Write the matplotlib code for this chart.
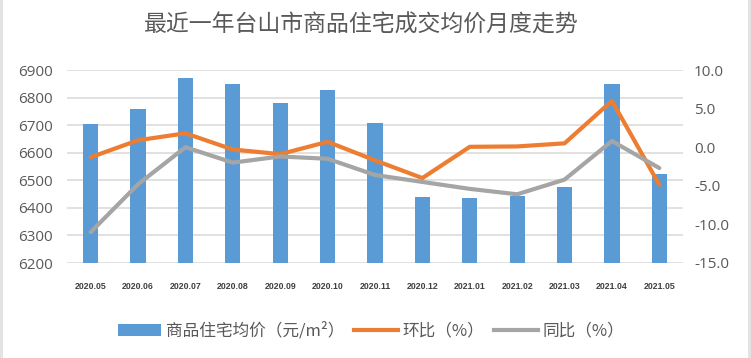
import matplotlib
matplotlib.use("Agg")
import matplotlib.pyplot as plt
from matplotlib.lines import Line2D
from matplotlib.patches import Patch, Rectangle

months = ["2020.05", "2020.06", "2020.07", "2020.08", "2020.09", "2020.10", "2020.11",
          "2020.12", "2021.01", "2021.02", "2021.03", "2021.04", "2021.05"]
price = [6703, 6757, 6872, 6848, 6779, 6826, 6706, 6440, 6436, 6443, 6476, 6851, 6522]
mom = [-1.3, 0.9, 1.8, -0.3, -0.9, 0.7, -1.7, -4.0, 0.05, 0.1, 0.5, 6.0, -4.85]
yoy = [-11.0, -4.8, 0.0, -2.0, -1.2, -1.5, -3.6, -4.5, -5.4, -6.1, -4.2, 0.8, -2.7]

title = "最近一年台山市商品住宅成交均价月度走势"
lab_bar = "商品住宅均价（元/m²）"
lab_mom = "环比（%）"
lab_yoy = "同比（%）"

plt.rcParams['font.family'] = ['Noto Sans CJK SC', 'DejaVu Sans']

BLUE = "#5B9BD5"
ORANGE = "#ED7D31"
GRAY = "#A5A5A5"
TXT = "#595959"

fig = plt.figure(figsize=(7.51, 3.58), dpi=100)
fig.patch.set_facecolor("white")
ax = fig.add_axes([67/751, 1-263/358, (683-67)/751, (263-70)/358])
ax2 = ax.twinx()

x = list(range(len(months)))
ax.set_axisbelow(True)
ax.bar(x, price, width=0.32, color=BLUE, zorder=2)
ax.set_ylim(6200, 6900)
ax.set_yticks(range(6200, 6901, 100))
ax.set_xlim(-0.5, len(months) - 0.5)
ax.yaxis.grid(True, color="#D9D9D9", linewidth=1.1)
ax.xaxis.grid(False)

ax2.plot(x, mom, color=ORANGE, linewidth=3, solid_capstyle="round", zorder=3)
ax2.plot(x, yoy, color=GRAY, linewidth=3, solid_capstyle="round", zorder=3)
ax2.set_ylim(-15, 10)
ax2.set_yticks([-15, -10, -5, 0, 5, 10])
ax2.set_yticklabels([f"{v:.1f}" for v in [-15, -10, -5, 0, 5, 10]])

for a in (ax, ax2):
    for s in a.spines.values():
        s.set_visible(False)
    a.tick_params(length=0)

ax.set_xticks(x)
ax.set_xticklabels(months, fontfamily="Liberation Sans", fontweight="bold",
                   fontsize=6.3, color="#404040")
ax.tick_params(axis="x", pad=14)
for t in ax.get_yticklabels():
    t.set_fontfamily("Open Sans")
    t.set_fontsize(11)
    t.set_color(TXT)
ax.tick_params(axis="y", pad=10)
for t in ax2.get_yticklabels():
    t.set_fontfamily("Open Sans")
    t.set_fontsize(11)
    t.set_color(TXT)
ax2.tick_params(axis="y", pad=8)

fig.text(361/751, 1-25/358, title, ha="center", va="center", fontsize=16.5,
         color=TXT, fontweight="light")

handles = [Patch(facecolor=BLUE, edgecolor="none"),
           Line2D([0], [0], color=ORANGE, linewidth=3),
           Line2D([0], [0], color=GRAY, linewidth=3)]
leg = fig.legend(handles, [lab_bar, lab_mom, lab_yoy], loc="center",
                 bbox_to_anchor=(371/751, 1-331/358), ncol=3, frameon=False,
                 fontsize=12, labelcolor=TXT, handlelength=2.6, handletextpad=0.3,
                 columnspacing=0.6)
for t in leg.get_texts():
    t.set_fontweight("light")

fig.patches.append(Rectangle((0, 0), 3/751, 1, transform=fig.transFigure,
                             facecolor="#E3E3E3", edgecolor="none"))
fig.patches.append(Rectangle((1-3/751, 0), 3/751, 1, transform=fig.transFigure,
                             facecolor="#E3E3E3", edgecolor="none"))

fig.savefig("out.png", dpi=100)
